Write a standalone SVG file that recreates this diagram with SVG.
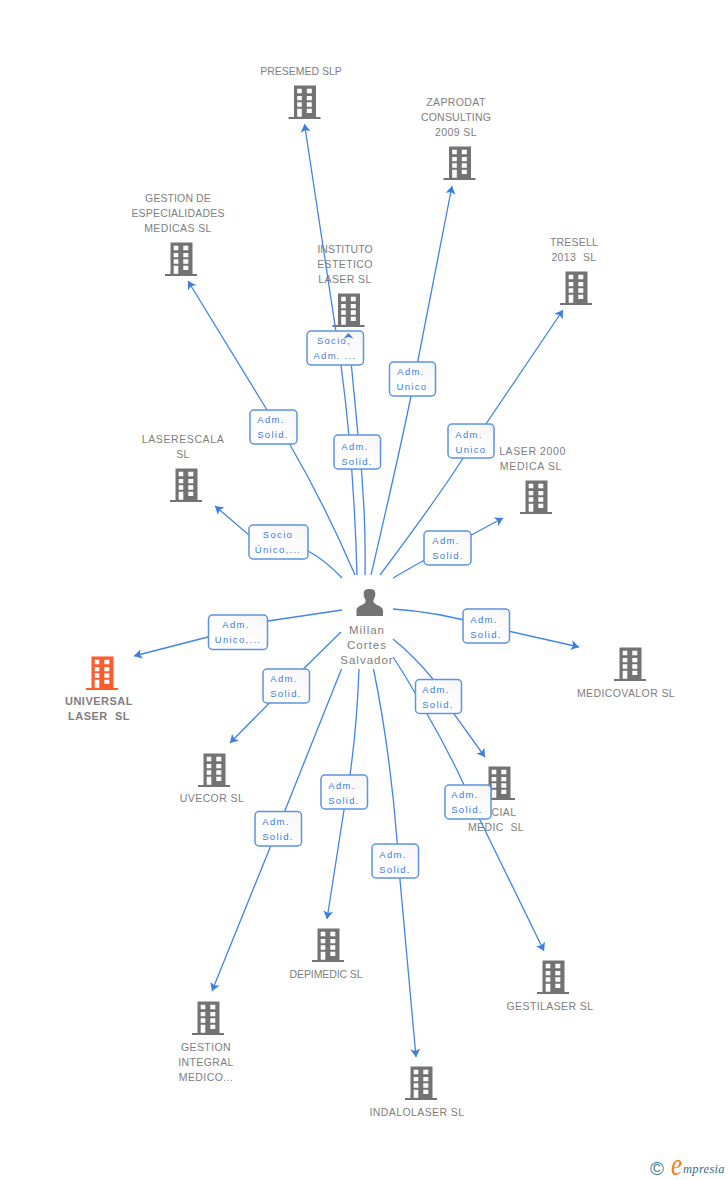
<svg xmlns="http://www.w3.org/2000/svg" width="728" height="1180" viewBox="0 0 728 1180">
<style>
text{font-family:"Liberation Sans",Arial,sans-serif;white-space:pre}
.n{font-size:10.5px;fill:#7e7e7e;text-anchor:middle;letter-spacing:.4px}
.b{font-weight:bold;letter-spacing:.5px;font-size:11px}
.p{font-size:11.5px;letter-spacing:1px}
.l{font-size:9.5px;fill:#3a7be0;text-anchor:middle;letter-spacing:1.3px}
.c{fill:none;stroke:#4285e2;stroke-width:1.3}
.x{fill:url(#g);stroke:#5c93e4;stroke-width:1.5}
.w{fill:#fff}
</style>
<defs>
<linearGradient id="g" x1="1" y1="0" x2="0" y2="1"><stop offset="0" stop-color="#f5f5f5"/><stop offset=".6" stop-color="#fff"/></linearGradient>
<marker id="a" markerUnits="userSpaceOnUse" markerWidth="14" markerHeight="14" refX="8" refY="5" orient="auto"><path d="M0 0L8 5L0 10L2 5Z" fill="#3a7fe0"/></marker>
<g id="i"><path d="M5.5 .5H27.5V32H32V34H0V32H5.5Z"/><path class="w" d="M8.7 3.7H13.3V8.300H8.700ZM18.300 3.700H23.300V8.300H18.300ZM8.700 11H13.300V15.300H8.700ZM18.300 11H23.300V15.300H18.300ZM8.700 17.300H13.300V21.700H8.700ZM18.300 17.300H23.300V21.700H18.300ZM8.700 23.700H13.300V31.700H8.700ZM18.300 23.700H23.300V28H18.300Z"/></g>
</defs>
<g id="node-presemed" fill="#737373"><text class="n" x="301" y="75" style="letter-spacing:0">PRESEMED SLP</text><use href="#i" x="288.500" y="85"/></g>
<g id="node-zaprodat" fill="#737373"><text class="n" x="456" y="106">ZAPRODAT</text><text class="n" x="456" y="121" style="letter-spacing:.2px">CONSULTING</text><text class="n" x="456" y="136">2009 SL</text><use href="#i" x="443.500" y="146"/></g>
<g id="node-gestion-especialidades" fill="#737373"><text class="n" x="178" y="202" style="letter-spacing:.1px">GESTION DE</text><text class="n" x="178" y="217" style="letter-spacing:.2px">ESPECIALIDADES</text><text class="n" x="178" y="232">MEDICAS SL</text><use href="#i" x="165" y="242"/></g>
<g id="node-instituto" fill="#737373"><text class="n" x="345" y="253" style="letter-spacing:0">INSTITUTO</text><text class="n" x="345" y="268">ESTETICO</text><text class="n" x="345" y="283">LASER SL</text><use href="#i" x="332.500" y="293"/></g>
<g id="node-tresell" fill="#737373"><text class="n" x="574" y="246" style="letter-spacing:.2px">TRESELL</text><text class="n" x="574" y="261">2013  SL</text><use href="#i" x="560" y="271"/></g>
<g id="node-laserescala" fill="#737373"><text class="n" x="183" y="443" style="letter-spacing:.6px">LASERESCALA</text><text class="n" x="183" y="458">SL</text><use href="#i" x="170" y="468"/></g>
<g id="node-laser2000" fill="#737373"><text class="n" x="532.500" y="455" style="letter-spacing:.6px">LASER 2000</text><text class="n" x="531" y="470" style="letter-spacing:.7px">MEDICA SL</text><use href="#i" x="520" y="480"/></g>
<g id="node-medicovalor" fill="#737373"><use href="#i" x="614" y="647"/><text class="n" x="626" y="697">MEDICOVALOR SL</text></g>
<g id="node-universal" fill="#ff5c2e"><use href="#i" x="86" y="656"/><text class="n b" x="99" y="705">UNIVERSAL</text><text class="n b" x="99" y="720">LASER  SL</text></g>
<g id="node-uvecor" fill="#737373"><use href="#i" x="198" y="753"/><text class="n" x="212" y="802">UVECOR SL</text></g>
<g id="node-social" fill="#737373"><use href="#i" x="483" y="766"/><text class="n" x="496" y="816">SOCIAL</text><text class="n" x="496" y="831">MEDIC  SL</text></g>
<g id="node-gestilaser" fill="#737373"><use href="#i" x="537" y="960"/><text class="n" x="550" y="1010">GESTILASER SL</text></g>
<g id="node-depimedic" fill="#737373"><use href="#i" x="312" y="928"/><text class="n" x="326" y="978" style="letter-spacing:-.1px">DEPIMEDIC SL</text></g>
<g id="node-gestion-integral" fill="#737373"><use href="#i" x="192" y="1001"/><text class="n" x="206" y="1051">GESTION</text><text class="n" x="206" y="1066">INTEGRAL</text><text class="n" x="206" y="1081">MEDICO...</text></g>
<g id="node-indalolaser" fill="#737373"><use href="#i" x="405" y="1066"/><text class="n" x="417" y="1116">INDALOLASER SL</text></g>
<g id="node-person" fill="#737373"><path d="M364.500 590.500C366 588.500 373 588.500 374.500 590.500C376 593 375.500 597 373.500 600C373 602 374 603.500 377 605C381 606.500 383 608 383 611V616H356.500V611C356.500 608 358 606.500 362 605C365 603.500 366 602 365.500 600C363.500 597 363 593 364.500 590.500Z"/><text class="n p" x="367" y="634">Millan</text><text class="n p" x="367" y="649">Cortes</text><text class="n p" x="367" y="664">Salvador</text></g>
<g id="connectors">
<path class="c" marker-end="url(#a)" d="M357 575C355.500 520 351 440 341 365L304.500 124"/>
<path class="c" d="M365 575C366 520 362 470 358 435L349 340"/>
<path class="c" marker-end="url(#a)" d="M371 575C385 515 400 450 411 396L452 186"/>
<path class="c" marker-end="url(#a)" d="M380 575C410 535 440 495 465 455L563 310"/>
<path class="c" marker-end="url(#a)" d="M393 578Q420 562 447 548L503 518"/>
<path class="c" marker-end="url(#a)" d="M393 609Q440 612 486 626L579 647"/>
<path class="c" marker-end="url(#a)" d="M393 639Q415 657 432 678L454 714L485 757"/>
<path class="c" marker-end="url(#a)" d="M393 657Q405 675 415 693L427 714Q448 750 464 785L480 820L544 951"/>
<path class="c" marker-end="url(#a)" d="M373.500 669Q390 750 397 840L400 880L416 1057"/>
<path class="c" marker-end="url(#a)" d="M359 669Q357 725 350 775L344 810L327 919"/>
<path class="c" marker-end="url(#a)" d="M341.500 669L278 828L212 991"/>
<path class="c" marker-end="url(#a)" d="M341 632L286 686L230 743"/>
<path class="c" marker-end="url(#a)" d="M342 610L268 621L208 637L134 656"/>
<path class="c" marker-end="url(#a)" d="M342 578Q325 560 308 551L249 535L215 506"/>
<path class="c" marker-end="url(#a)" d="M355 575Q325 505 289 443L267 410L188 281"/>
</g>
<g id="labels">
<g><rect class="x" x="307" y="331" width="56.500" height="34" rx="4"/><text class="l" x="334" y="344">Socio,</text><text class="l" x="335" y="359">Adm. ...</text></g>
<g><rect class="x" x="389.500" y="362" width="46" height="34" rx="4"/><text class="l" x="411" y="375">Adm.</text><text class="l" x="412" y="390">Unico</text></g>
<g><rect class="x" x="334" y="435" width="46.500" height="34" rx="4"/><text class="l" x="355" y="450">Adm.</text><text class="l" x="357" y="465">Solid.</text></g>
<g><rect class="x" x="250" y="410" width="47" height="34" rx="4"/><text class="l" x="271" y="423">Adm.</text><text class="l" x="273" y="438">Solid.</text></g>
<g><rect class="x" x="448" y="424" width="46" height="34" rx="4"/><text class="l" x="469" y="438">Adm.</text><text class="l" x="471" y="453">Unico</text></g>
<g><rect class="x" x="249" y="525" width="59" height="34" rx="4"/><text class="l" x="278" y="538">Socio</text><text class="l" x="278" y="553">Único,...</text></g>
<g><rect class="x" x="424" y="531" width="47" height="34" rx="4"/><text class="l" x="446" y="544">Adm.</text><text class="l" x="448" y="559">Solid.</text></g>
<g><rect class="x" x="463" y="609" width="46.500" height="34" rx="4"/><text class="l" x="484" y="623">Adm.</text><text class="l" x="486" y="638">Solid.</text></g>
<g><rect class="x" x="208.500" y="615" width="59" height="34.500" rx="4"/><text class="l" x="236" y="628">Adm.</text><text class="l" x="238" y="643">Unico,...</text></g>
<g><rect class="x" x="263" y="669" width="46.500" height="34" rx="4"/><text class="l" x="284" y="682">Adm.</text><text class="l" x="286" y="697">Solid.</text></g>
<g><rect class="x" x="415.500" y="679.500" width="46" height="34" rx="4"/><text class="l" x="436" y="693">Adm.</text><text class="l" x="438" y="708">Solid.</text></g>
<g><rect class="x" x="445" y="785" width="46" height="34" rx="4"/><text class="l" x="465" y="798">Adm.</text><text class="l" x="467" y="813">Solid.</text></g>
<g><rect class="x" x="321" y="775" width="46.500" height="34" rx="4"/><text class="l" x="342" y="789">Adm.</text><text class="l" x="344" y="804">Solid.</text></g>
<g><rect class="x" x="372" y="844" width="46.500" height="34" rx="4"/><text class="l" x="393" y="858">Adm.</text><text class="l" x="395" y="873">Solid.</text></g>
<g><rect class="x" x="255" y="811.500" width="46.500" height="34.500" rx="4"/><text class="l" x="276" y="825">Adm.</text><text class="l" x="278" y="840">Solid.</text></g>
</g>
<path id="arrowhead-instituto" d="M348.500 333L353.500 338.500L348.700 337L343.500 338.500Z" fill="#3a7fe0"/>
<g id="logo"><text x="650" y="1175" font-size="19" fill="#3f7f95">©</text><text transform="translate(671 1175) scale(1 1.3)" font-size="25" font-style="italic" fill="#f07d14" style="font-family:'Liberation Serif',serif">e</text><text x="683" y="1173" font-size="12.500" font-style="italic" fill="#2f7185" style="font-family:'Liberation Serif',serif;letter-spacing:.3px">mpresia</text></g>
</svg>
